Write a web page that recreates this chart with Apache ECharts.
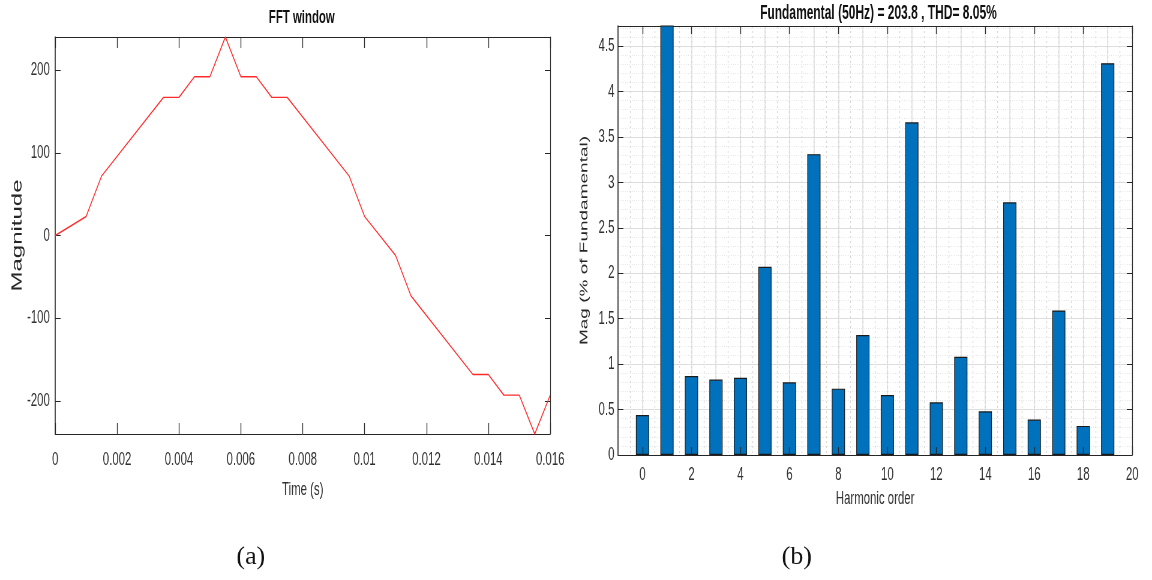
<!DOCTYPE html>
<html>
<head>
<meta charset="utf-8">
<script src="https://cdn.jsdelivr.net/npm/echarts@6/dist/echarts.min.js"></script>
<style>
html,body{margin:0;padding:0;background:#fff;width:1152px;height:580px;overflow:hidden}
/* The reference figure is a wide figure squeezed horizontally to 1152px; lay out at 1920 and compress */
#c{width:1920px;height:580px;transform:scaleX(0.6);transform-origin:0 0}
</style>
</head>
<body>
<div id="c"></div>
<script>
// ---- Data: (a) FFT window (time in s, magnitude) ----
var timeS = [0, 0.001, 0.0015, 0.0035, 0.004, 0.0045, 0.005, 0.0055, 0.006, 0.0065, 0.007, 0.0075, 0.0095, 0.01, 0.011, 0.0115, 0.0135, 0.014, 0.0145, 0.015, 0.0155, 0.016];
var magnitude = [0, 23, 72, 167, 167, 192, 192, 240, 192, 192, 167, 167, 72, 23, -24, -73, -168, -168, -193, -193, -240, -193];
var timeTicks = [0, 0.002, 0.004, 0.006, 0.008, 0.01, 0.012, 0.014, 0.016];
var magTicks = [-200, -100, 0, 100, 200];

// ---- Data: (b) harmonic spectrum ----
var harmonicOrder = [0, 1, 2, 3, 4, 5, 6, 7, 8, 9, 10, 11, 12, 13, 14, 15, 16, 17, 18, 19];
var harmonicMag = [0.44, 100, 0.87, 0.83, 0.85, 2.07, 0.80, 3.31, 0.73, 1.32, 0.66, 3.66, 0.58, 1.08, 0.48, 2.78, 0.39, 1.59, 0.32, 4.31];
var orderTicks = [0, 2, 4, 6, 8, 10, 12, 14, 16, 18, 20];
var magPctTicks = [0, 0.5, 1, 1.5, 2, 2.5, 3, 3.5, 4, 4.5];

var titleA = 'FFT window';
var titleB = 'Fundamental (50Hz) = 203.8 , THD= 8.05%';
var captionA = '(a)';
var captionB = '(b)';

var SANS = "'Liberation Sans',Arial,Helvetica,sans-serif";
var SERIF = "'Liberation Serif','Times New Roman',serif";
var tickColor = '#303030';
var axisDark = '#262626';
var SQUEEZE = 0.6;

var lineData = timeS.map(function (t, i) { return [t, magnitude[i]]; });
var barData = harmonicOrder.map(function (h, i) { return [h, harmonicMag[i]]; });

var chart = echarts.init(document.getElementById('c'), null, {renderer: 'canvas', width: 1920, height: 580});

function fmtNum(v) { return String(parseFloat(v.toFixed(6))); }
var tickFont = {fontFamily: SANS, fontSize: 19, color: tickColor};

var option = {
  animation: false,
  backgroundColor: '#fff',
  grid: [
    {left: 92, right: 1003, top: 37, bottom: 146, containLabel: false},
    {left: 1030, right: 33, top: 26, bottom: 125, containLabel: false}
  ],
  xAxis: [
    // 0: left chart bottom
    {type: 'value', gridIndex: 0, min: 0, max: 0.016, interval: 0.002, position: 'bottom',
     name: 'Time (s)', nameLocation: 'middle', nameGap: 46,
     nameTextStyle: {fontFamily: SANS, fontSize: 19, color: tickColor},
     axisLine: {show: true, onZero: false, lineStyle: {color: axisDark, width: 1}},
     axisTick: {show: true, inside: true, length: 11, lineStyle: {color: axisDark, width: 1.3}},
     axisLabel: Object.assign({margin: 16, formatter: fmtNum}, tickFont),
     splitLine: {show: false}},
    // 1: left chart top border
    {type: 'value', gridIndex: 0, min: 0, max: 0.016, interval: 0.002, position: 'top',
     axisLine: {show: true, onZero: false, lineStyle: {color: axisDark, width: 1}},
     axisTick: {show: true, inside: true, length: 11, lineStyle: {color: axisDark, width: 1.3}},
     axisLabel: {show: false}, splitLine: {show: false}},
    // 2: right chart bottom (bars)
    {type: 'value', gridIndex: 1, min: -1, max: 20, interval: 1, position: 'bottom',
     name: 'Harmonic order', nameLocation: 'middle', nameGap: 31,
     nameTextStyle: {fontFamily: SANS, fontSize: 19, color: tickColor},
     axisLine: {show: true, onZero: false, lineStyle: {color: axisDark, width: 1}},
     axisTick: {show: false},
     axisLabel: Object.assign({margin: 10, customValues: orderTicks}, tickFont),
     splitLine: {show: true, customValues: orderTicks, lineStyle: {color: '#dcdcdc', width: 1.5}}},
    // 3: right chart minor grid (vertical, dotted)
    {type: 'value', gridIndex: 1, min: -1, max: 20, interval: 0.5, position: 'top',
     axisLine: {show: false, onZero: false}, axisTick: {show: false}, axisLabel: {show: false},
     splitLine: {show: true, lineStyle: {color: '#d6d6d6', type: [2, 3], width: 1.3}}},
    // 4: right chart top border with ticks
    {type: 'value', gridIndex: 1, min: -1, max: 20, interval: 1, position: 'top',
     axisLine: {show: true, onZero: false, lineStyle: {color: axisDark, width: 1}},
     axisTick: {show: true, inside: true, length: 8, customValues: orderTicks, lineStyle: {color: axisDark, width: 1.3}},
     axisLabel: {show: false}, splitLine: {show: false}},
    // 5: right chart bottom ticks drawn above the bars
    {type: 'value', gridIndex: 1, min: -1, max: 20, interval: 1, position: 'bottom', z: 10,
     axisLine: {show: false, onZero: false},
     axisTick: {show: true, inside: true, length: 8, customValues: orderTicks, lineStyle: {color: axisDark, width: 1.3}},
     axisLabel: {show: false}, splitLine: {show: false}}
  ],
  yAxis: [
    // 0: left chart left
    {type: 'value', gridIndex: 0, min: -240, max: 240, interval: 20, position: 'left',
     name: 'Magnitude', nameLocation: 'middle', nameGap: 50,
     nameTextStyle: {fontFamily: SANS, fontSize: 24, color: '#262626'},
     axisLine: {show: true, onZero: false, lineStyle: {color: axisDark, width: 1.6}},
     axisTick: {show: true, inside: true, length: 9, customValues: magTicks, lineStyle: {color: axisDark}},
     axisLabel: Object.assign({margin: 9, customValues: magTicks}, tickFont),
     splitLine: {show: false}},
    // 1: left chart right border
    {type: 'value', gridIndex: 0, min: -240, max: 240, interval: 20, position: 'right',
     axisLine: {show: true, onZero: false, lineStyle: {color: axisDark, width: 1.2}},
     axisTick: {show: true, inside: true, length: 9, customValues: magTicks, lineStyle: {color: axisDark}},
     axisLabel: {show: false}, splitLine: {show: false}},
    // 2: right chart left (bars)
    {type: 'value', gridIndex: 1, min: 0, max: 4.72, interval: 0.5, position: 'left',
     name: 'Mag (% of Fundamental)', nameLocation: 'middle', nameGap: 47,
     nameTextStyle: {fontFamily: SANS, fontSize: 19, color: '#262626'},
     axisLine: {show: true, onZero: false, lineStyle: {color: axisDark, width: 1.6}},
     axisTick: {show: true, inside: true, length: 9, customValues: magPctTicks, lineStyle: {color: axisDark}},
     axisLabel: Object.assign({margin: 6, customValues: magPctTicks}, tickFont),
     splitLine: {show: true, lineStyle: {color: '#dcdcdc', width: 1}}},
    // 3: right chart minor grid (horizontal, dotted)
    {type: 'value', gridIndex: 1, min: 0, max: 4.72, interval: 0.1, position: 'right',
     axisLine: {show: false, onZero: false}, axisTick: {show: false}, axisLabel: {show: false},
     splitLine: {show: true, lineStyle: {color: '#e2e2e2', type: [1, 2], width: 1}}},
    // 4: right chart right border
    {type: 'value', gridIndex: 1, min: 0, max: 4.72, interval: 0.5, position: 'right',
     axisLine: {show: true, onZero: false, lineStyle: {color: axisDark, width: 1.2}},
     axisTick: {show: true, inside: true, length: 9, customValues: magPctTicks, lineStyle: {color: axisDark}},
     axisLabel: {show: false}, splitLine: {show: false}}
  ],
  series: [
    {type: 'line', xAxisIndex: 0, yAxisIndex: 0, data: lineData, showSymbol: false, symbol: 'none',
     lineStyle: {color: '#ff2a2a', width: 1.4}, clip: true, z: 5},
    {type: 'bar', xAxisIndex: 2, yAxisIndex: 2, data: barData, barWidth: 22, clip: true,
     itemStyle: {color: '#0072BD', borderColor: '#1a1a1a', borderWidth: 1.2}, z: 5}
  ],
  graphic: [
    {type: 'text', x: 503, y: 18, z: 20, style: {text: titleA, align: 'center', verticalAlign: 'middle', font: "bold 19px " + SANS, fill: '#111'}},
    {type: 'text', x: 1464, y: 13, z: 20, style: {text: titleB, align: 'center', verticalAlign: 'middle', font: "bold 20px " + SANS, fill: '#111'}},
    // captions are not squeezed in the reference: undo the horizontal compression
    {type: 'text', x: 418, y: 557, z: 20, scaleX: 1 / SQUEEZE, style: {text: captionA, align: 'center', verticalAlign: 'middle', font: "26px " + SERIF, fill: '#111'}},
    {type: 'text', x: 1328, y: 557, z: 20, scaleX: 1 / SQUEEZE, style: {text: captionB, align: 'center', verticalAlign: 'middle', font: "26px " + SERIF, fill: '#111'}}
  ]
};
chart.setOption(option);
</script>
</body>
</html>
